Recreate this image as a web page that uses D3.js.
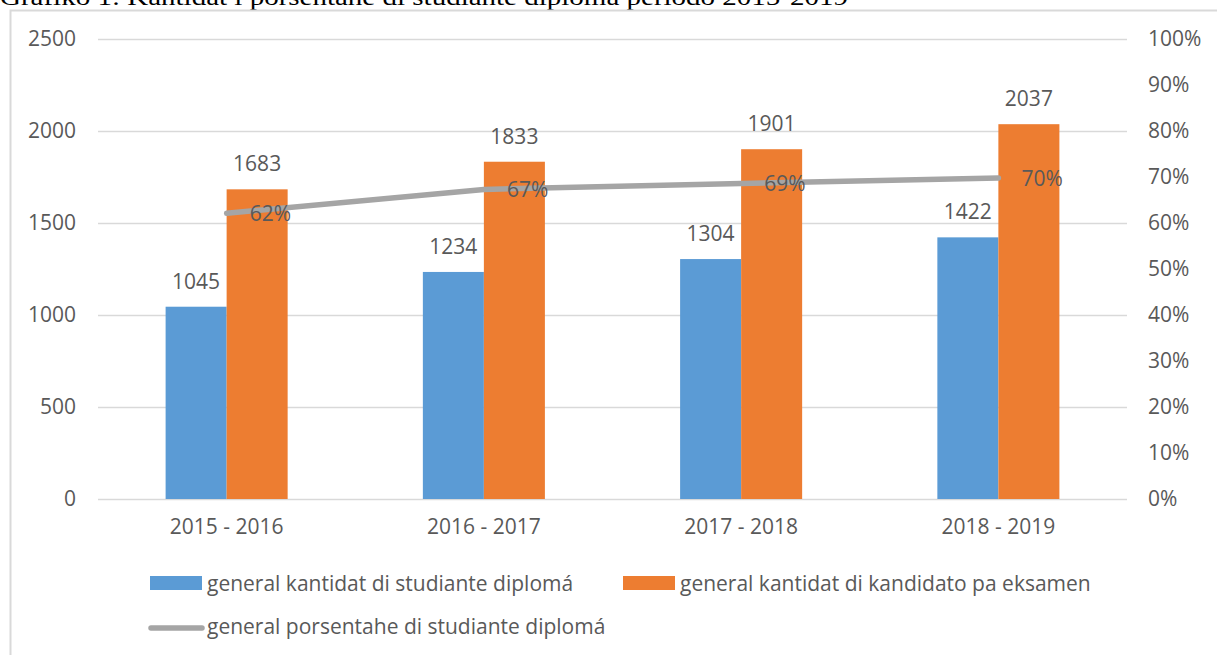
<!DOCTYPE html>
<html>
<head>
<meta charset="utf-8">
<script src="https://cdn.jsdelivr.net/npm/d3@7"></script>
<style>
  html, body { margin: 0; padding: 0; background: #fff; }
  svg { display: block; }
  text { font-family: "Open Sans", "Liberation Sans", sans-serif; fill: #595959; }
</style>
</head>
<body>
<svg id="chart" width="1217" height="655"></svg>
<script>
const categories = ["2015 - 2016", "2016 - 2017", "2017 - 2018", "2018 - 2019"];
const graduates = [1045, 1234, 1304, 1422];
const candidates = [1683, 1833, 1901, 2037];
const percentages = [0.621, 0.673, 0.686, 0.698];
const leftTicks = [0, 500, 1000, 1500, 2000, 2500];
const rightTicks = [0, 0.1, 0.2, 0.3, 0.4, 0.5, 0.6, 0.7, 0.8, 0.9, 1.0];
const seriesNames = ["general kantidat di studiante diplomá", "general kantidat di kandidato pa eksamen", "general porsentahe di studiante diplomá"];
const title = "Gráfiko 1: Kantidat i porsentahe di studiante diplomá periodo 2015-2019";

const colors = { blue: "#5B9BD5", orange: "#ED7D31", gray: "#A5A5A5", grid: "#D9D9D9" };
const FS = "21px";

const svg = d3.select("#chart");
const plot = { left: 98, right: 1127, top: 39, bottom: 499 };

// title (cut at top)
svg.append("text")
  .attr("x", 0).attr("y", 5)
  .attr("textLength", 848).attr("lengthAdjust", "spacingAndGlyphs")
  .style("font-family", "'Liberation Serif', 'DejaVu Serif', serif")
  .style("font-size", "24px").style("fill", "#000")
  .text(title);

// frame
svg.append("rect")
  .attr("x", 10.5).attr("y", 10.5).attr("width", 1400).attr("height", 800)
  .attr("fill", "none").attr("stroke", colors.grid).attr("stroke-width", 2);

const x0 = d3.scaleBand().domain(categories).range([plot.left, plot.right]).padding(0);
const x1 = d3.scaleBand().domain(["g", "c"]).range([0, x0.bandwidth()]).paddingInner(0).paddingOuter(1.108);
const yL = d3.scaleLinear().domain([0, 2500]).range([plot.bottom, plot.top]);
const yR = d3.scaleLinear().domain([0, 1]).range([plot.bottom, plot.top]);

// gridlines
svg.append("g").selectAll("line").data(leftTicks).join("line")
  .attr("x1", plot.left).attr("x2", plot.right)
  .attr("y1", d => Math.round(yL(d)) + 0.5).attr("y2", d => Math.round(yL(d)) + 0.5)
  .attr("stroke", colors.grid).attr("stroke-width", 1.5);

function styleAxis(g) {
  g.select(".domain").remove();
  g.selectAll("text").style("font-size", FS).attr("fill", "#595959").style("font-family", "'Open Sans', sans-serif");
}

// left axis labels
const leftAxis = d3.axisLeft(yL).tickValues(leftTicks).tickSize(0).tickPadding(0).tickFormat(d3.format("d"));
svg.append("g").attr("transform", `translate(76,0)`).call(leftAxis).call(styleAxis);

// right axis labels
const rightAxis = d3.axisRight(yR).tickValues(rightTicks).tickSize(0).tickPadding(0).tickFormat(d3.format(".0%"));
svg.append("g").attr("transform", `translate(1148,0)`).call(rightAxis).call(styleAxis);

// bottom axis labels
const bottomAxis = d3.axisBottom(x0).tickSize(0).tickPadding(0);
svg.append("g").attr("transform", `translate(0,${plot.bottom + 20})`).call(bottomAxis).call(styleAxis);

// bars
const rows = categories.map((c, i) => ({ c, g: graduates[i], k: candidates[i], p: percentages[i] }));
const barG = svg.append("g");
barG.selectAll("rect.g").data(rows).join("rect").attr("class", "g")
  .attr("x", d => x0(d.c) + x1("g")).attr("width", x1.bandwidth())
  .attr("y", d => yL(d.g)).attr("height", d => yL(0) - yL(d.g))
  .attr("fill", colors.blue);
barG.selectAll("rect.k").data(rows).join("rect").attr("class", "k")
  .attr("x", d => x0(d.c) + x1("c")).attr("width", x1.bandwidth())
  .attr("y", d => yL(d.k)).attr("height", d => yL(0) - yL(d.k))
  .attr("fill", colors.orange);

// bar labels
barG.selectAll("text.g").data(rows).join("text").attr("class", "g")
  .attr("x", d => x0(d.c) + x1("g") + x1.bandwidth() / 2)
  .attr("y", d => yL(d.g) - 18)
  .attr("text-anchor", "middle").style("font-size", FS)
  .text(d => d.g);
barG.selectAll("text.k").data(rows).join("text").attr("class", "k")
  .attr("x", d => x0(d.c) + x1("c") + x1.bandwidth() / 2)
  .attr("y", d => yL(d.k) - 18)
  .attr("text-anchor", "middle").style("font-size", FS)
  .text(d => d.k);

// line
const cx = d => x0(d.c) + x0.bandwidth() / 2;
const line = d3.line().x(cx).y(d => yR(d.p));
svg.append("path").datum(rows)
  .attr("d", line).attr("fill", "none")
  .attr("stroke", colors.gray).attr("stroke-width", 5.5)
  .attr("stroke-linecap", "round").attr("stroke-linejoin", "round");

svg.append("g").selectAll("text").data(rows).join("text")
  .attr("x", d => cx(d) + 23).attr("y", d => yR(d.p) + 8)
  .style("font-size", FS)
  .text(d => d3.format(".0%")(d.p));

// legend
const lg = svg.append("g");
lg.append("rect").attr("x", 150).attr("y", 576).attr("width", 52).attr("height", 14).attr("fill", colors.blue);
lg.append("text").attr("x", 207).attr("y", 591).style("font-size", FS).text(seriesNames[0]);
lg.append("rect").attr("x", 623).attr("y", 576).attr("width", 52).attr("height", 14).attr("fill", colors.orange);
lg.append("text").attr("x", 680).attr("y", 591).style("font-size", FS).text(seriesNames[1]);
lg.append("line").attr("x1", 151).attr("x2", 202).attr("y1", 628).attr("y2", 628)
  .attr("stroke", colors.gray).attr("stroke-width", 5.5).attr("stroke-linecap", "round");
lg.append("text").attr("x", 207).attr("y", 634).style("font-size", FS).text(seriesNames[2]);
</script>
</body>
</html>
